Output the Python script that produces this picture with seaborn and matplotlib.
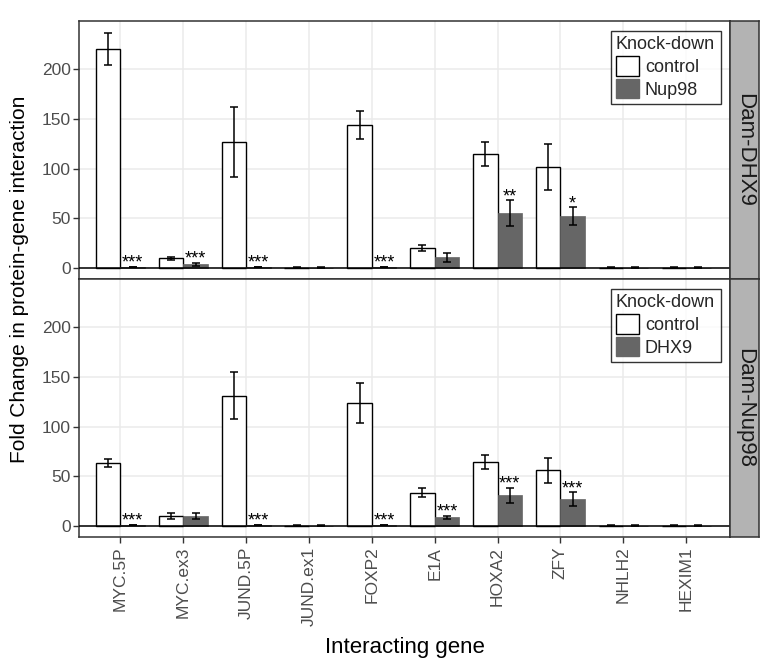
import matplotlib
matplotlib.use("Agg")
import matplotlib.pyplot as plt
from matplotlib.patches import Patch
import seaborn as sns
import pandas as pd

# data
genes = ["MYC.5P", "MYC.ex3", "JUND.5P", "JUND.ex1", "FOXP2",
         "E1A", "HOXA2", "ZFY", "NHLH2", "HEXIM1"]

# panel 1: Dam-DHX9, knock-down of Nup98
dhx9_ctrl = [220, 10, 127, 0.5, 144, 20, 115, 102, 0.5, 0.5]
dhx9_ctrl_err = [16, 1.5, 35, 0.2, 14, 3, 12, 23, 0.2, 0.2]
dhx9_kd = [1, 4, 1, 0.5, 1, 11, 55, 52, 0.5, 0.5]
dhx9_kd_err = [0.4, 1.5, 0.4, 0.2, 0.4, 4.5, 13, 9, 0.2, 0.2]
dhx9_stars = ["***", "***", "***", "", "***", "", "**", "*", "", ""]

# panel 2: Dam-Nup98, knock-down of DHX9
nup98_ctrl = [63, 10, 131, 0.5, 124, 33.5, 64, 56, 0.5, 0.5]
nup98_ctrl_err = [4, 3, 23.5, 0.2, 20, 4.7, 7, 12.6, 0.2, 0.2]
nup98_kd = [1, 10.5, 1, 0.5, 1, 9, 31, 27, 0.5, 0.5]
nup98_kd_err = [0.4, 3, 0.4, 0.2, 0.4, 1.6, 7.4, 7, 0.2, 0.2]
nup98_stars = ["***", "", "***", "", "***", "***", "***", "***", "", ""]

panels = [
    ("Dam-DHX9", "Nup98", dhx9_ctrl, dhx9_ctrl_err, dhx9_kd, dhx9_kd_err, dhx9_stars),
    ("Dam-Nup98", "DHX9", nup98_ctrl, nup98_ctrl_err, nup98_kd, nup98_kd_err, nup98_stars),
]

sns.set_style("whitegrid")
plt.rcParams["font.family"] = ["Liberation Sans", "DejaVu Sans"]

W, H = 775, 671
fig = plt.figure(figsize=(W / 100, H / 100), dpi=100)
L, R, T, B = 79, 730, 21, 537
ph = (B - T) / 2
grey_kd = "#666666"

for i, (name, kd, ctrl, ctrl_err, kdv, kd_err, stars) in enumerate(panels):
    top = T + i * ph
    ax = fig.add_axes([L / W, 1 - (top + ph) / H, (R - L) / W, ph / H])

    df = pd.DataFrame({
        "gene": genes * 2,
        "fc": ctrl + kdv,
        "kd": ["control"] * len(genes) + [kd] * len(genes),
    })
    sns.barplot(data=df, x="gene", y="fc", hue="kd", order=genes,
                hue_order=["control", kd], palette={"control": "white", kd: grey_kd},
                width=0.78, errorbar=None, legend=False, ax=ax, zorder=2)

    errs = [ctrl_err, kd_err]
    vals = [ctrl, kdv]
    bar_conts = list(ax.containers)
    for j, cont in enumerate(bar_conts):
        for k, bar in enumerate(cont):
            if j == 0:
                bar.set_edgecolor("black")
                bar.set_linewidth(1.0)
            else:
                bar.set_edgecolor(grey_kd)
                bar.set_linewidth(0.5)
            xc = bar.get_x() + bar.get_width() / 2
            ax.errorbar(xc, vals[j][k], yerr=errs[j][k], color="black",
                        capsize=2.6, elinewidth=1.1, capthick=1.1, zorder=4)
            if j == 1 and stars[k]:
                ax.text(xc, vals[j][k] + errs[j][k] - 1.0, stars[k], ha="center",
                        va="baseline", fontsize=13, color="black", zorder=5)

    ax.axhline(0, color="black", lw=1.1, zorder=3)
    ax.set_ylim(-11, 248.5)
    ax.set_xlim(-0.66, 9.7)
    ax.set_yticks([0, 50, 100, 150, 200])
    ax.grid(True, color="#EBEBEB", lw=1.1)
    ax.set_axisbelow(True)
    ax.set_xlabel("")
    ax.set_ylabel("")
    for sp in ax.spines.values():
        sp.set_visible(True)
        sp.set_color("#333333")
        sp.set_linewidth(1.1)
    ax.tick_params(axis="y", labelsize=12.5, labelcolor="#4D4D4D", left=True,
                   length=4, color="#333333", width=1, pad=2)
    ax.tick_params(axis="x", labelsize=12.5, labelcolor="#4D4D4D", bottom=(i == 1),
                   labelbottom=(i == 1), length=4, color="#333333", width=1,
                   rotation=90, pad=3)

    handles = [Patch(facecolor="white", edgecolor="black", lw=1.0, label="control"),
               Patch(facecolor=grey_kd, edgecolor=grey_kd, label=kd)]
    leg = ax.legend(handles=handles, title="Knock-down", loc="upper right",
                    bbox_to_anchor=(0.991, 0.975), fontsize=13, title_fontsize=13,
                    frameon=True, fancybox=False, handlelength=1.3, handleheight=1.3,
                    handletextpad=0.3, borderpad=0.3, labelspacing=0.15,
                    borderaxespad=0.2)
    leg.get_frame().set_edgecolor("black")
    leg.get_frame().set_linewidth(1.0)
    leg._legend_box.align = "left"

    # facet strip on the right
    sax = fig.add_axes([R / W, 1 - (top + ph) / H, 29 / W, ph / H])
    sax.set_facecolor("#B3B3B3")
    sax.set_xticks([])
    sax.set_yticks([])
    for sp in sax.spines.values():
        sp.set_color("#333333")
        sp.set_linewidth(1.1)
    sax.text(0.5, 0.5, name, rotation=-90, ha="center", va="center",
             fontsize=16, color="#1A1A1A", transform=sax.transAxes)

fig.text(20 / W, 1 - ((T + B) / 2) / H, "Fold Change in protein-gene interaction",
         rotation=90, ha="center", va="center", fontsize=15, color="black")
fig.text(((L + R) / 2) / W, 1 - 648 / H, "Interacting gene", ha="center",
         va="center", fontsize=16, color="black")

fig.savefig("out.png", dpi=100)
